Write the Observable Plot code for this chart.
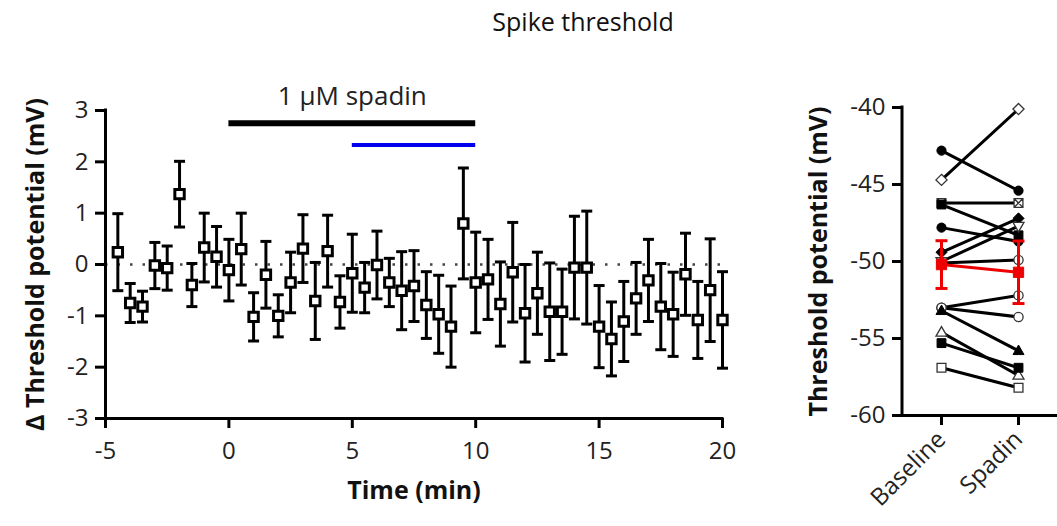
<!DOCTYPE html>
<html>
<head>
<meta charset="utf-8">
<script src="https://cdn.jsdelivr.net/npm/d3@7"></script>
<script src="https://cdn.jsdelivr.net/npm/@observablehq/plot@0.6"></script>
<style>
  html, body { margin: 0; padding: 0; background: #fff; }
  #wrap { position: relative; width: 1057px; height: 526px; overflow: hidden; font-family: "Open Sans", sans-serif; }
  #wrap svg { position: absolute; left: 0; top: 0; }
  #title { position: absolute; left: 433px; width: 300px; top: 4px; text-align: center; font-size: 25px; color: #111; }
</style>
</head>
<body>
<div id="wrap"><div id="title">Spike threshold</div></div>
<script>
// ---------- Left panel data: Δ threshold potential over time ----------
const times = [-4.5, -4, -3.5, -3, -2.5, -2, -1.5, -1, -0.5, 0,
  0.5, 1, 1.5, 2, 2.5, 3, 3.5, 4, 4.5, 5,
  5.5, 6, 6.5, 7, 7.5, 8, 8.5, 9, 9.5, 10,
  10.5, 11, 11.5, 12, 12.5, 13, 13.5, 14, 14.5, 15,
  15.5, 16, 16.5, 17, 17.5, 18, 18.5, 19, 19.5, 20];
const meanDelta = [0.24, -0.75, -0.82, -0.02, -0.07, 1.37, -0.40, 0.33, 0.15, -0.11,
  0.30, -1.02, -0.20, -1.00, -0.35, 0.31, -0.71, 0.26, -0.73, -0.17,
  -0.45, -0.01, -0.35, -0.51, -0.42, -0.79, -0.97, -1.21, 0.80, -0.35,
  -0.29, -0.77, -0.15, -0.95, -0.56, -0.92, -0.92, -0.06, -0.06, -1.21,
  -1.45, -1.11, -0.66, -0.31, -0.82, -0.97, -0.19, -1.08, -0.50, -1.08];
const semDelta = [0.75, 0.38, 0.30, 0.45, 0.43, 0.64, 0.42, 0.67, 0.59, 0.60,
  0.70, 0.47, 0.65, 0.41, 0.59, 0.66, 0.75, 0.70, 0.51, 0.76,
  0.49, 0.66, 0.47, 0.76, 0.69, 0.65, 0.76, 0.79, 1.08, 0.98,
  0.78, 0.82, 0.97, 0.95, 0.80, 0.95, 0.83, 1.00, 1.10, 0.80,
  0.72, 0.78, 0.70, 0.80, 0.84, 0.82, 0.80, 0.75, 1.00, 0.94];
const timeTicks = [-5, 0, 5, 10, 15, 20];
const deltaTicks = [-3, -2, -1, 0, 1, 2, 3];
const drugLabel = "1 μM spadin";
const drugStart = [0, 5];
const drugEnd = [10, 10];

// ---------- Right panel data: paired cells ----------
const conditions = ["Baseline", "Spadin"];
const cellSymbol = ["diamond", "circle", "xsquare", "square", "circle", "diamond", "triangledown",
  "circle", "circle", "circle", "triangle", "triangle", "square", "square"];
const cellFilled = [false, true, false, true, true, true, false,
  false, false, false, true, false, true, false];
const baselineMV = [-44.7, -42.8, -46.2, -46.3, -47.8, -49.4, -50.0,
  -50.1, -53.0, -53.0, -53.2, -54.6, -55.3, -56.9];
const spadinMV = [-40.1, -45.4, -46.2, -48.3, -48.7, -47.2, -47.7,
  -49.9, -52.2, -53.6, -55.8, -57.4, -56.9, -58.2];
const groupMean = [-50.2, -50.7];
const groupSem = [1.55, 2.03];
const thresholdTicks = [-60, -55, -50, -45, -40];

// ---------- helpers ----------
const FONT = '"Open Sans", sans-serif';
const capSymbol = (hw) => ({ draw(ctx) { ctx.moveTo(-hw, 0); ctx.lineTo(hw, 0); } });
const triDown = { draw(ctx, size) { const r = Math.sqrt(size / Math.PI); ctx.moveTo(0, r * 1.15); ctx.lineTo(r * 1.1, -r * 0.75); ctx.lineTo(-r * 1.1, -r * 0.75); ctx.closePath(); } };
const triUp = { draw(ctx, size) { const r = Math.sqrt(size / Math.PI); ctx.moveTo(0, -r * 1.15); ctx.lineTo(r * 1.1, r * 0.75); ctx.lineTo(-r * 1.1, r * 0.75); ctx.closePath(); } };
const xSquare = { draw(ctx, size) { const h = Math.sqrt(size) / 2; ctx.moveTo(-h, -h); ctx.lineTo(h, -h); ctx.lineTo(h, h); ctx.lineTo(-h, h); ctx.closePath(); ctx.moveTo(-h, -h); ctx.lineTo(h, h); ctx.moveTo(h, -h); ctx.lineTo(-h, h); } };
const symbolMap = { circle: d3.symbolCircle, square: d3.symbolSquare, diamond: d3.symbolDiamond2, triangle: triUp, triangledown: triDown, xsquare: xSquare };
const axisLineLeft = (...args) => {
  const dims = args.find(a => a && typeof a === "object" && "marginLeft" in a && "height" in a);
  const line = d3.create("svg:line")
    .attr("x1", dims.marginLeft).attr("x2", dims.marginLeft)
    .attr("y1", dims.marginTop).attr("y2", dims.height - dims.marginBottom)
    .attr("stroke", "black").attr("stroke-width", 3).attr("stroke-linecap", "square");
  return line.node();
};

// ---------- Left plot ----------
const series = times.map((t, i) => ({ t, m: meanDelta[i], s: semDelta[i] }));
const caps = series.flatMap(d => [{ t: d.t, y: d.m - d.s }, { t: d.t, y: d.m + d.s }]);
const bars = drugStart.map((s, i) => ({ s, e: drugEnd[i], k: i }));

const left = Plot.plot({
  width: 1057, height: 526,
  marginLeft: 105, marginRight: 335, marginTop: 110, marginBottom: 108,
  style: { fontFamily: FONT, fontSize: "24px", color: "#222", background: "transparent", overflow: "visible" },
  x: { domain: [-5, 20] },
  y: { domain: [-3, 3] },
  marks: [
    Plot.ruleY([0], { x1: -5, x2: 20, stroke: "#444", strokeWidth: 2.5, strokeDasharray: "2.5,10" }),
    Plot.axisX(timeTicks, { tickSize: 10, tickPadding: 13, stroke: "black", strokeWidth: 3, tickFormat: d => String(d), label: null }),
    Plot.axisY(deltaTicks, { tickSize: 10, tickPadding: 7, stroke: "black", strokeWidth: 3, tickFormat: d => String(d), label: null }),
    Plot.ruleY([-3], { x1: -5, x2: 20, stroke: "black", strokeWidth: 3, strokeLinecap: "square" }),
    Plot.ruleX([-5], { y1: -3, y2: 3, stroke: "black", strokeWidth: 3, strokeLinecap: "square" }),
    Plot.ruleX(series, { x: "t", y1: d => d.m - d.s, y2: d => d.m + d.s, stroke: "black", strokeWidth: 3 }),
    Plot.dot(caps, { x: "t", y: "y", symbol: capSymbol(5.5), r: 5, stroke: "black", strokeWidth: 3, fill: "none" }),
    Plot.dot(series, { x: "t", y: "m", symbol: "square", r: 5.3, fill: "white", stroke: "black", strokeWidth: 3 }),
    Plot.ruleY(bars, { x1: "s", x2: "e", y: d => d.k === 0 ? 2.75 : 2.33, stroke: d => d.k === 0 ? "black" : "#0000ee", strokeWidth: d => d.k === 0 ? 6 : 4 }),
    Plot.text([drugLabel], { x: () => (drugStart[0] + drugEnd[0]) / 2, y: () => 3.27, text: d => d, fontSize: 26, fill: "#222" }),
    Plot.text(["Time (min)"], { frameAnchor: "bottom", dy: 80, text: d => d, fontWeight: "bold", fontSize: 25, fill: "#111" }),
    Plot.text(["Δ Threshold potential (mV)"], { frameAnchor: "left", textAnchor: "middle", dx: -70, rotate: -90, text: d => d, fontWeight: "bold", fontSize: 25, fill: "#111" })
  ]
});

// ---------- Right plot ----------
const cells = baselineMV.map((b, i) => ({ id: i, sym: cellSymbol[i], filled: cellFilled[i], b, s: spadinMV[i] }));
const pairRows = cells.flatMap(c => [{ id: c.id, cond: conditions[0], v: c.b }, { id: c.id, cond: conditions[1], v: c.s }]);
const meanRows = conditions.map((c, i) => ({ cond: c, m: groupMean[i], e: groupSem[i] }));
const meanCaps = meanRows.flatMap(d => [{ cond: d.cond, y: d.m - d.e }, { cond: d.cond, y: d.m + d.e }]);

const cellDots = cells.map(c => Plot.dot(pairRows.filter(r => r.id === c.id), {
  x: "cond", y: "v", symbol: symbolMap[c.sym],
  r: c.sym === "circle" ? 4.6 : 5,
  fill: c.filled ? "black" : "white",
  stroke: c.filled ? "black" : "#333",
  strokeWidth: c.filled ? 1 : 1.3
}));

const right = Plot.plot({
  width: 1057, height: 526,
  marginLeft: 902, marginRight: 0, marginTop: 107, marginBottom: 111,
  style: { fontFamily: FONT, fontSize: "24px", color: "#222", background: "transparent", overflow: "visible" },
  x: { type: "point", domain: conditions, padding: 0.5 },
  y: { domain: [-60, -40] },
  marks: [
    Plot.axisX({ tickSize: 10, tickPadding: 10, tickRotate: -45, stroke: "black", strokeWidth: 3, label: null }),
    Plot.axisY(thresholdTicks, { tickSize: 10, tickPadding: 7, stroke: "black", strokeWidth: 3, tickFormat: d => String(d), label: null }),
    Plot.ruleY([-60], { stroke: "black", strokeWidth: 3 }),
    axisLineLeft,
    Plot.line(pairRows, { x: "cond", y: "v", z: "id", stroke: "black", strokeWidth: 3 }),
    ...cellDots,
    Plot.line(meanRows, { x: "cond", y: "m", stroke: "#ee0000", strokeWidth: 3 }),
    Plot.ruleX(meanRows, { x: "cond", y1: d => d.m - d.e, y2: d => d.m + d.e, stroke: "#ee0000", strokeWidth: 3 }),
    Plot.dot(meanCaps, { x: "cond", y: "y", symbol: capSymbol(6), r: 5, stroke: "#ee0000", strokeWidth: 3, fill: "none" }),
    Plot.dot(meanRows, { x: "cond", y: "m", symbol: "square", r: 5.8, fill: "#ee0000", stroke: "#ee0000", strokeWidth: 1 }),
    Plot.text(["Threshold potential (mV)"], { frameAnchor: "left", textAnchor: "middle", dx: -84, rotate: -90, text: d => d, fontWeight: "bold", fontSize: 25, fill: "#111" })
  ]
});

const wrap = document.getElementById("wrap");
wrap.appendChild(left);
wrap.appendChild(right);
</script>
</body>
</html>
